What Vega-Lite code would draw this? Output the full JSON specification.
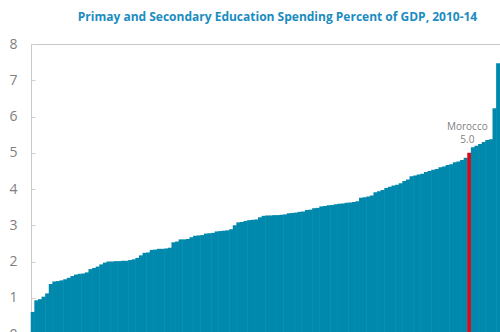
{
  "$schema": "https://vega.github.io/schema/vega-lite/v6.json",
  "width": 469,
  "height": 290,
  "autosize": {"type": "none"},
  "padding": {"left": 31, "top": 44, "right": 0, "bottom": 0},
  "title": {
    "text": "Primay and Secondary Education Spending Percent of GDP, 2010-14",
    "font": "Open Sans",
    "fontSize": 12,
    "fontWeight": "bold",
    "color": "#1A8CBF",
    "anchor": "middle",
    "dx": 12,
    "baseline": "alphabetic",
    "offset": 4
  },
  "config": {"view": {"stroke": null}},
  "data": {
    "values": [
      {"rank": 1, "country": "Country 1", "value": 0.61},
      {"rank": 2, "country": "Country 2", "value": 0.93},
      {"rank": 3, "country": "Country 3", "value": 0.96},
      {"rank": 4, "country": "Country 4", "value": 1.03},
      {"rank": 5, "country": "Country 5", "value": 1.12},
      {"rank": 6, "country": "Country 6", "value": 1.38},
      {"rank": 7, "country": "Country 7", "value": 1.45},
      {"rank": 8, "country": "Country 8", "value": 1.46},
      {"rank": 9, "country": "Country 9", "value": 1.48},
      {"rank": 10, "country": "Country 10", "value": 1.51},
      {"rank": 11, "country": "Country 11", "value": 1.55},
      {"rank": 12, "country": "Country 12", "value": 1.6},
      {"rank": 13, "country": "Country 13", "value": 1.64},
      {"rank": 14, "country": "Country 14", "value": 1.66},
      {"rank": 15, "country": "Country 15", "value": 1.67},
      {"rank": 16, "country": "Country 16", "value": 1.7},
      {"rank": 17, "country": "Country 17", "value": 1.79},
      {"rank": 18, "country": "Country 18", "value": 1.82},
      {"rank": 19, "country": "Country 19", "value": 1.86},
      {"rank": 20, "country": "Country 20", "value": 1.92},
      {"rank": 21, "country": "Country 21", "value": 1.97},
      {"rank": 22, "country": "Country 22", "value": 2.0},
      {"rank": 23, "country": "Country 23", "value": 2.0},
      {"rank": 24, "country": "Country 24", "value": 2.01},
      {"rank": 25, "country": "Country 25", "value": 2.01},
      {"rank": 26, "country": "Country 26", "value": 2.02},
      {"rank": 27, "country": "Country 27", "value": 2.02},
      {"rank": 28, "country": "Country 28", "value": 2.04},
      {"rank": 29, "country": "Country 29", "value": 2.06},
      {"rank": 30, "country": "Country 30", "value": 2.1},
      {"rank": 31, "country": "Country 31", "value": 2.17},
      {"rank": 32, "country": "Country 32", "value": 2.24},
      {"rank": 33, "country": "Country 33", "value": 2.25},
      {"rank": 34, "country": "Country 34", "value": 2.32},
      {"rank": 35, "country": "Country 35", "value": 2.33},
      {"rank": 36, "country": "Country 36", "value": 2.35},
      {"rank": 37, "country": "Country 37", "value": 2.35},
      {"rank": 38, "country": "Country 38", "value": 2.36},
      {"rank": 39, "country": "Country 39", "value": 2.38},
      {"rank": 40, "country": "Country 40", "value": 2.53},
      {"rank": 41, "country": "Country 41", "value": 2.55},
      {"rank": 42, "country": "Country 42", "value": 2.61},
      {"rank": 43, "country": "Country 43", "value": 2.61},
      {"rank": 44, "country": "Country 44", "value": 2.62},
      {"rank": 45, "country": "Country 45", "value": 2.67},
      {"rank": 46, "country": "Country 46", "value": 2.71},
      {"rank": 47, "country": "Country 47", "value": 2.72},
      {"rank": 48, "country": "Country 48", "value": 2.73},
      {"rank": 49, "country": "Country 49", "value": 2.77},
      {"rank": 50, "country": "Country 50", "value": 2.78},
      {"rank": 51, "country": "Country 51", "value": 2.79},
      {"rank": 52, "country": "Country 52", "value": 2.83},
      {"rank": 53, "country": "Country 53", "value": 2.84},
      {"rank": 54, "country": "Country 54", "value": 2.85},
      {"rank": 55, "country": "Country 55", "value": 2.86},
      {"rank": 56, "country": "Country 56", "value": 2.89},
      {"rank": 57, "country": "Country 57", "value": 3.0},
      {"rank": 58, "country": "Country 58", "value": 3.08},
      {"rank": 59, "country": "Country 59", "value": 3.09},
      {"rank": 60, "country": "Country 60", "value": 3.12},
      {"rank": 61, "country": "Country 61", "value": 3.14},
      {"rank": 62, "country": "Country 62", "value": 3.15},
      {"rank": 63, "country": "Country 63", "value": 3.16},
      {"rank": 64, "country": "Country 64", "value": 3.22},
      {"rank": 65, "country": "Country 65", "value": 3.26},
      {"rank": 66, "country": "Country 66", "value": 3.27},
      {"rank": 67, "country": "Country 67", "value": 3.27},
      {"rank": 68, "country": "Country 68", "value": 3.28},
      {"rank": 69, "country": "Country 69", "value": 3.28},
      {"rank": 70, "country": "Country 70", "value": 3.29},
      {"rank": 71, "country": "Country 71", "value": 3.3},
      {"rank": 72, "country": "Country 72", "value": 3.33},
      {"rank": 73, "country": "Country 73", "value": 3.34},
      {"rank": 74, "country": "Country 74", "value": 3.35},
      {"rank": 75, "country": "Country 75", "value": 3.37},
      {"rank": 76, "country": "Country 76", "value": 3.38},
      {"rank": 77, "country": "Country 77", "value": 3.42},
      {"rank": 78, "country": "Country 78", "value": 3.43},
      {"rank": 79, "country": "Country 79", "value": 3.47},
      {"rank": 80, "country": "Country 80", "value": 3.48},
      {"rank": 81, "country": "Country 81", "value": 3.52},
      {"rank": 82, "country": "Country 82", "value": 3.53},
      {"rank": 83, "country": "Country 83", "value": 3.55},
      {"rank": 84, "country": "Country 84", "value": 3.56},
      {"rank": 85, "country": "Country 85", "value": 3.58},
      {"rank": 86, "country": "Country 86", "value": 3.59},
      {"rank": 87, "country": "Country 87", "value": 3.6},
      {"rank": 88, "country": "Country 88", "value": 3.62},
      {"rank": 89, "country": "Country 89", "value": 3.63},
      {"rank": 90, "country": "Country 90", "value": 3.64},
      {"rank": 91, "country": "Country 91", "value": 3.66},
      {"rank": 92, "country": "Country 92", "value": 3.76},
      {"rank": 93, "country": "Country 93", "value": 3.77},
      {"rank": 94, "country": "Country 94", "value": 3.79},
      {"rank": 95, "country": "Country 95", "value": 3.82},
      {"rank": 96, "country": "Country 96", "value": 3.91},
      {"rank": 97, "country": "Country 97", "value": 3.94},
      {"rank": 98, "country": "Country 98", "value": 3.97},
      {"rank": 99, "country": "Country 99", "value": 4.03},
      {"rank": 100, "country": "Country 100", "value": 4.06},
      {"rank": 101, "country": "Country 101", "value": 4.1},
      {"rank": 102, "country": "Country 102", "value": 4.12},
      {"rank": 103, "country": "Country 103", "value": 4.16},
      {"rank": 104, "country": "Country 104", "value": 4.22},
      {"rank": 105, "country": "Country 105", "value": 4.26},
      {"rank": 106, "country": "Country 106", "value": 4.35},
      {"rank": 107, "country": "Country 107", "value": 4.37},
      {"rank": 108, "country": "Country 108", "value": 4.4},
      {"rank": 109, "country": "Country 109", "value": 4.42},
      {"rank": 110, "country": "Country 110", "value": 4.47},
      {"rank": 111, "country": "Country 111", "value": 4.5},
      {"rank": 112, "country": "Country 112", "value": 4.53},
      {"rank": 113, "country": "Country 113", "value": 4.55},
      {"rank": 114, "country": "Country 114", "value": 4.6},
      {"rank": 115, "country": "Country 115", "value": 4.62},
      {"rank": 116, "country": "Country 116", "value": 4.66},
      {"rank": 117, "country": "Country 117", "value": 4.68},
      {"rank": 118, "country": "Country 118", "value": 4.74},
      {"rank": 119, "country": "Country 119", "value": 4.76},
      {"rank": 120, "country": "Country 120", "value": 4.8},
      {"rank": 121, "country": "Country 121", "value": 4.86},
      {"rank": 122, "country": "Morocco", "value": 5.0},
      {"rank": 123, "country": "Country 123", "value": 5.15},
      {"rank": 124, "country": "Country 124", "value": 5.19},
      {"rank": 125, "country": "Country 125", "value": 5.24},
      {"rank": 126, "country": "Country 126", "value": 5.3},
      {"rank": 127, "country": "Country 127", "value": 5.35},
      {"rank": 128, "country": "Country 128", "value": 5.37},
      {"rank": 129, "country": "Country 129", "value": 6.23},
      {"rank": 130, "country": "Country 130", "value": 7.47}
    ]
  },
  "encoding": {
    "x": {
      "field": "rank",
      "type": "ordinal",
      "scale": {"paddingInner": 0, "paddingOuter": 0},
      "axis": {"orient": "top", "labels": false, "ticks": false, "title": null, "domainColor": "#c8c8c8", "domainWidth": 1}
    },
    "y": {
      "field": "value",
      "type": "quantitative",
      "scale": {"domain": [0, 8], "nice": false, "zero": true},
      "axis": {
        "values": [0, 1, 2, 3, 4, 5, 6, 7, 8],
        "grid": false,
        "title": null,
        "domainColor": "#c8c8c8",
        "tickColor": "#d0d0d0",
        "tickSize": -4,
        "labelPadding": 18,
        "labelFont": "Open Sans",
        "labelFontSize": 14,
        "labelColor": "#808080"
      }
    }
  },
  "layer": [
    {
      "mark": {"type": "bar", "width": {"band": 1.15}},
      "encoding": {
        "color": {"condition": {"test": "datum.country === 'Morocco'", "value": "#E30613"}, "value": "#0089AD"}
      }
    },
    {
      "transform": [{"filter": "datum.country === 'Morocco'"}],
      "mark": {"type": "text", "baseline": "bottom", "dy": -8, "dx": -2, "font": "Open Sans", "fontSize": 10, "color": "#7f7f7f"},
      "encoding": {"text": {"field": "value", "type": "quantitative", "format": ".1f"}}
    },
    {
      "transform": [{"filter": "datum.country === 'Morocco'"}],
      "mark": {"type": "text", "baseline": "bottom", "dy": -21, "dx": -2, "font": "Open Sans", "fontSize": 10, "color": "#7f7f7f"},
      "encoding": {"text": {"field": "country", "type": "nominal"}}
    }
  ]
}
